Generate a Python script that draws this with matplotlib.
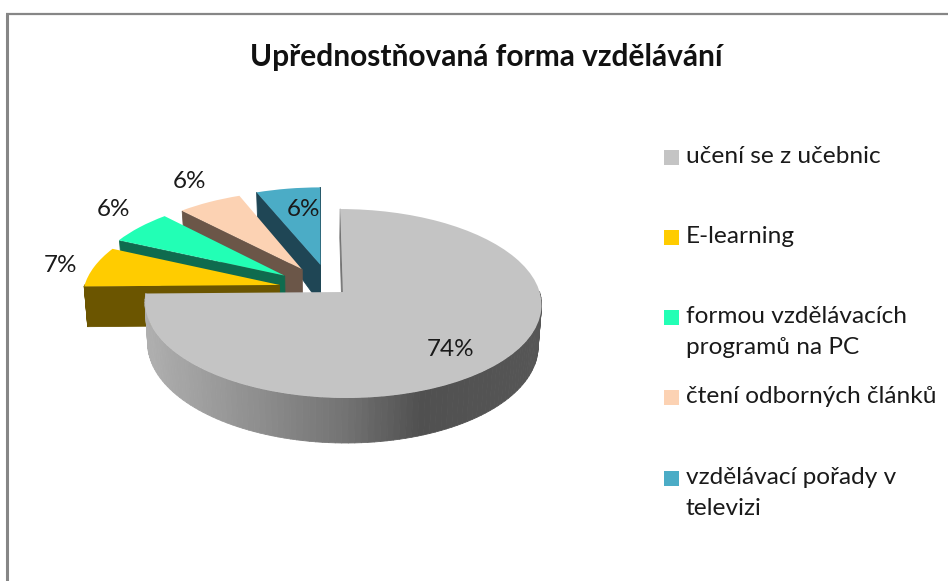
import numpy as np
import matplotlib
matplotlib.use('Agg')
import matplotlib.pyplot as plt
from matplotlib.collections import PolyCollection
from matplotlib.colors import LinearSegmentedColormap
from matplotlib.patches import Rectangle
from matplotlib.transforms import Transform

title = 'Upřednostňovaná forma vzdělávání'
categories = ['učení se z učebnic', 'E-learning', 'formou vzdělávacích\nprogramů na PC',
              'čtení odborných článků', 'vzdělávací pořady v\ntelevizi']
values = [74, 7, 6, 6, 6]

top_colors = ['#C4C4C4', '#FFCC00', '#22FFB5', '#FCD2B3', '#4BACC6']
side_colors = ['#777777', '#6B5500', '#0F6B4E', '#6B5648', '#1F4655']
explode = [0.165, 0.175, 0.165, 0.165, 0.19]
# small corrections of the exploded centres (pie units)
nudge = [(0.01, 0), (-0.025, -0.075), (-0.04, -0.03), (0.005, 0), (0.05, 0)]

# pixel layout, measured on the picture
label_pos = [(451, 349), (61, 265), (114, 209), (190, 181), (304, 209)]
legend_y = [157, 237, 317, 397, 478]

CX, CY, RX, RY, TILT = 317.8, 281.4, 194, 90.5, 0.12


class Perspective(Transform):
    # pie coordinates -> picture pixels, far side of the pie is smaller
    input_dims = output_dims = 2

    def transform_non_affine(self, xy):
        xy = np.asarray(xy, dtype=float)
        w = 1 + TILT * xy[:, 1]
        return np.column_stack([CX + RX * xy[:, 0] / w, CY - RY * xy[:, 1] / w])


persp = Perspective()


def lower(xy_pie):
    # same points on the underside of the pie
    p = persp.transform_non_affine(xy_pie)
    v = xy_pie[:, 1]
    depth = np.where(v < 0.2, 40 - 4.5 * v, 39.1 - 15 * (v - 0.2))
    return np.column_stack([CX + (p[:, 0] - CX) * 0.985, p[:, 1] + depth])


fig = plt.figure(figsize=(9.48, 5.81), dpi=100)
ax = fig.add_axes([0, 0, 1, 1])
wedges, _ = ax.pie(values, explode=explode, colors=top_colors, startangle=90, counterclock=False)
ax.set_aspect('auto')
ax.set_xlim(0, 948)
ax.set_ylim(581, 0)
ax.axis('off')

side_cmap = LinearSegmentedColormap.from_list('side', [(0, '#B0B0B0'), (0.5, '#737373'),
                                                       (0.69, '#505050'), (1, '#565656')])

# back slices first, the big grey one last
for i in [4, 3, 2, 1, 0]:
    wedge = wedges[i]
    z = 10 + (4 - i) * 2
    wedge.set_center((wedge.center[0] + nudge[i][0], wedge.center[1] + nudge[i][1]))
    t = np.radians(np.linspace(wedge.theta1, wedge.theta2, 160))
    arc = np.column_stack([wedge.center[0] + np.cos(t), wedge.center[1] + np.sin(t)])
    outline = np.vstack([[wedge.center], arc, [wedge.center]])
    up = persp.transform_non_affine(outline)
    low = lower(outline)
    # only the faces turned to the viewer
    quads = [[up[k], up[k + 1], low[k + 1], low[k]] for k in range(len(outline) - 1)
             if outline[k + 1, 0] > outline[k, 0]]
    if i == 0:
        mids = np.array([q[0][0] for q in quads])
        cols = side_cmap((mids - 143) / 398)
    else:
        cols = [side_colors[i]] * len(quads)
    ax.add_collection(PolyCollection(quads, facecolors=cols, edgecolors=cols, linewidths=0.6, zorder=z))
    wedge.set_transform(persp + ax.transData)
    wedge.set_zorder(z + 1)
    wedge.set_edgecolor('none')

for v, (x, y) in zip(values, label_pos):
    ax.text(x, y, f'{v}%', fontsize=17.5, family='Lato', color='#1a1a1a', ha='center', va='center', zorder=30)

ax.text(486, 57, title, fontsize=21.5, family='Lato', fontweight='bold', color='#111111', ha='center', va='center')

for name, color, y in zip(categories, top_colors, legend_y):
    ax.add_patch(Rectangle((664, y - 7), 15, 15, facecolor=color, edgecolor='none'))
    ax.text(686, y - 11, name, fontsize=17.6, family='Lato', color='#1a1a1a', ha='left', va='top', linespacing=1.6)

# chart frame, only the top and left sides are inside the crop
ax.plot([7, 7], [14, 581], color='#868686', lw=2.2, solid_capstyle='butt')
ax.plot([6, 948], [14, 14], color='#868686', lw=1.6, solid_capstyle='butt')

fig.savefig('out.png', dpi=100)
